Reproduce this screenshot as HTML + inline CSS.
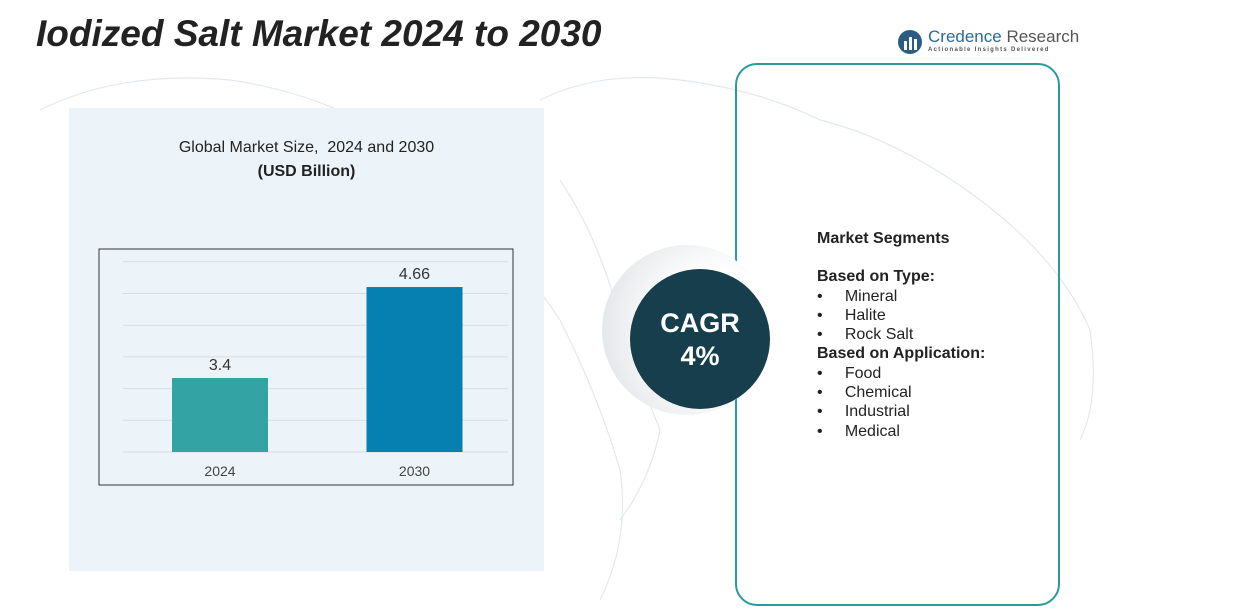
<!DOCTYPE html>
<html><head><meta charset="utf-8"><style>
body{margin:0;width:1237px;height:612px;background:#fff;position:relative;overflow:hidden;font-family:"Liberation Sans",sans-serif}
.abs{position:absolute}
</style></head><body>
<svg class="abs" style="left:0;top:0" width="1237" height="612">
<g fill="none" stroke="#e3e8ee" stroke-width="1.2">
<path d="M40 110 Q120 70 230 80 Q300 90 360 120 Q420 160 470 210 Q520 260 560 320 Q600 400 620 470 Q630 540 600 600"/>
<path d="M540 100 Q600 70 680 80 Q760 90 820 120 Q900 140 980 200 Q1060 260 1090 330 Q1100 400 1080 440"/>
<path d="M560 180 Q600 240 620 320 Q640 380 660 430 Q650 480 620 520"/>
</g></svg>
<div class="abs" style="left:69px;top:108px;width:475px;height:463px;background:#edf4f9"></div>
<div class="abs" style="left:36px;top:13px;font-size:37px;font-weight:bold;font-style:italic;color:#222">Iodized Salt Market 2024 to 2030</div>
<div class="abs" style="left:897px;top:27px;width:190px;height:30px;white-space:nowrap">
<svg width="26" height="26" style="position:absolute;left:0;top:2px"><circle cx="13" cy="13" r="12" fill="#2a5d84"/><rect x="7" y="12" width="3" height="9" fill="#fff"/><rect x="12" y="8" width="3" height="13" fill="#fff"/><rect x="17" y="10" width="3" height="11" fill="#fff"/></svg>
<div style="position:absolute;left:31px;top:0;font-size:17px;color:#2a6a96">Credence <span style="color:#555">Research</span></div>
<div style="position:absolute;left:31px;top:20px;font-size:6px;letter-spacing:1.3px;color:#555;font-weight:bold">Actionable Insights Delivered</div>
</div>
<div class="abs" style="left:69px;width:475px;top:139px;text-align:center;font-size:16px;color:#222">Global Market Size,&nbsp; 2024 and 2030</div>
<div class="abs" style="left:69px;width:475px;top:163px;text-align:center;font-size:16px;font-weight:bold;color:#222">(USD Billion)</div>
<svg class="abs" id="chart" style="left:0;top:0" width="1237" height="612"></svg>
<div class="abs" style="left:735px;top:63px;width:325px;height:543px;border:2px solid #2a9a9a;border-radius:22px;box-sizing:border-box"></div>
<div class="abs" style="left:602px;top:245px;width:170px;height:170px;border-radius:50%;background:radial-gradient(circle at 70% 50%,#fff 40%,#d9dde1 100%)"></div>
<div class="abs" style="left:630px;top:269px;width:140px;height:140px;border-radius:50%;background:#173e4c;color:#fff;text-align:center;font-weight:bold;font-size:27px;line-height:33px;box-sizing:border-box;padding-top:38px">CAGR<br>4%</div>
<div class="abs" style="left:817px;top:229px;font-size:16px;color:#222;line-height:19.3px">
<div style="font-weight:bold">Market Segments</div><div style="height:19px"></div>
<div style="font-weight:bold">Based on Type:</div>
<div>•&nbsp;&nbsp;&nbsp;&nbsp;&nbsp;Mineral</div><div>•&nbsp;&nbsp;&nbsp;&nbsp;&nbsp;Halite</div><div>•&nbsp;&nbsp;&nbsp;&nbsp;&nbsp;Rock Salt</div>
<div style="font-weight:bold">Based on Application:</div>
<div>•&nbsp;&nbsp;&nbsp;&nbsp;&nbsp;Food</div><div>•&nbsp;&nbsp;&nbsp;&nbsp;&nbsp;Chemical</div><div>•&nbsp;&nbsp;&nbsp;&nbsp;&nbsp;Industrial</div><div>•&nbsp;&nbsp;&nbsp;&nbsp;&nbsp;Medical</div>
</div>
<script>
const categories=["2024","2030"];
const values=[3.4,4.66];
const valueLabels=["3.4","4.66"];
const colors=["#33a3a3","#0580b0"];
const svg=document.getElementById('chart');
const NS="http://www.w3.org/2000/svg";
const base=452, yMin=2.375, pxPer=72.2;
const y=v=>base-(v-yMin)*pxPer;
const xc=i=>220+i*194.5;
function mk(t,a){const e=document.createElementNS(NS,t);for(const k in a)e.setAttribute(k,a[k]);svg.appendChild(e);return e;}
for(let g=0;g<7;g++){const l=mk('line',{x1:123,x2:508,y1:base-g*31.7,y2:base-g*31.7,stroke:'#d6dde3','stroke-width':1});

}
const fr=mk('rect',{x:99,y:249,width:414,height:236,fill:'none',stroke:'#333','stroke-width':1});


categories.forEach((c,i)=>{
 const b=mk('rect',{x:xc(i)-48,y:y(values[i]),width:96,height:base-y(values[i]),fill:colors[i]});
 
 
 const t=mk('text',{x:xc(i),y:y(values[i])-8,'text-anchor':'middle','font-size':16,fill:'#333','font-family':'Liberation Sans'});
 t.textContent=valueLabels[i];
 
 
 const xl=mk('text',{x:xc(i),y:476,'text-anchor':'middle','font-size':14,fill:'#444','font-family':'Liberation Sans'});
 xl.textContent=c;
 
 
});
</script>
</body></html>
